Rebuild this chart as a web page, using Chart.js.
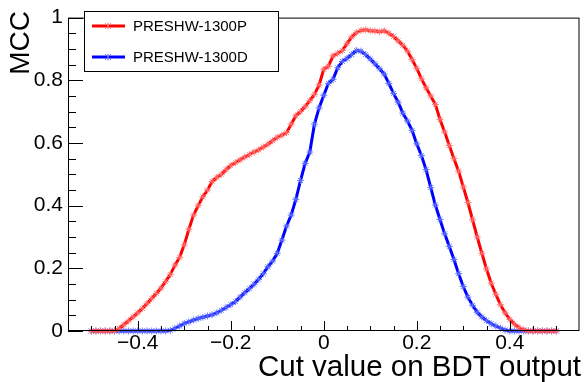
<!DOCTYPE html>
<html>
<head>
<meta charset="utf-8">
<script src="https://cdn.jsdelivr.net/npm/chart.js@4"></script>
<style>
  html, body { margin: 0; padding: 0; background: #fff; }
  #wrap { width: 584px; height: 382px; position: relative; }
</style>
</head>
<body>
<div id="wrap"><canvas id="mccChart"></canvas></div>
<script>
// cut values on the BDT output (bin centres)
const cutValues = [
  -0.50, -0.49, -0.48, -0.47, -0.46, -0.45, -0.44, -0.43, -0.42, -0.41,
  -0.40, -0.39, -0.38, -0.37, -0.36, -0.35, -0.34, -0.33, -0.32, -0.31,
  -0.30, -0.29, -0.28, -0.27, -0.26, -0.25, -0.24, -0.23, -0.22, -0.21,
  -0.20, -0.19, -0.18, -0.17, -0.16, -0.15, -0.14, -0.13, -0.12, -0.11,
  -0.10, -0.09, -0.08, -0.07, -0.06, -0.05, -0.04, -0.03, -0.02, -0.01,
   0.00,  0.01,  0.02,  0.03,  0.04,  0.05,  0.06,  0.07,  0.08,  0.09,
   0.10,  0.11,  0.12,  0.13,  0.14,  0.15,  0.16,  0.17,  0.18,  0.19,
   0.20,  0.21,  0.22,  0.23,  0.24,  0.25,  0.26,  0.27,  0.28,  0.29,
   0.30,  0.31,  0.32,  0.33,  0.34,  0.35,  0.36,  0.37,  0.38,  0.39,
   0.40,  0.41,  0.42,  0.43,  0.44,  0.45,  0.46,  0.47,  0.48,  0.49,
   0.50
];

const mccP = [
  0, 0, 0, 0, 0, 0, 0.008, 0.02, 0.032, 0.045,
  0.058, 0.072, 0.088, 0.104, 0.12, 0.137, 0.158, 0.18, 0.21, 0.235,
  0.275, 0.325, 0.37, 0.40, 0.428, 0.45, 0.477, 0.49, 0.50, 0.515,
  0.528, 0.537, 0.546, 0.555, 0.563, 0.571, 0.578, 0.587, 0.596, 0.607,
  0.618, 0.625, 0.633, 0.66, 0.687, 0.70, 0.716, 0.735, 0.755, 0.785,
  0.835, 0.845, 0.878, 0.886, 0.895, 0.917, 0.938, 0.952, 0.959, 0.961,
  0.958, 0.957, 0.955, 0.958, 0.95, 0.94, 0.926, 0.912, 0.893, 0.866,
  0.838, 0.805, 0.776, 0.75, 0.723, 0.675, 0.635, 0.592, 0.55, 0.51,
  0.46, 0.41, 0.355, 0.30, 0.248, 0.198, 0.153, 0.117, 0.084, 0.058,
  0.037, 0.022, 0.011, 0.004, 0, 0, 0, 0, 0, 0,
  0
];

const mccD = [
  0, 0, 0, 0, 0, 0, 0, 0, 0, 0,
  0, 0, 0, 0, 0, 0, 0, 0.002, 0.008, 0.016,
  0.024, 0.029, 0.035, 0.04, 0.044, 0.048, 0.052, 0.058, 0.066, 0.075,
  0.084, 0.094, 0.108, 0.122, 0.135, 0.149, 0.165, 0.183, 0.205, 0.223,
  0.248, 0.29, 0.335, 0.37, 0.42, 0.48, 0.535, 0.571, 0.66, 0.712,
  0.752, 0.79, 0.803, 0.84, 0.86, 0.87, 0.882, 0.895, 0.893, 0.882,
  0.868, 0.853, 0.837, 0.82, 0.79, 0.758, 0.73, 0.695, 0.67, 0.64,
  0.597, 0.56, 0.515, 0.458, 0.402, 0.356, 0.31, 0.27, 0.228, 0.183,
  0.142, 0.108, 0.082, 0.06, 0.045, 0.033, 0.023, 0.016, 0.009, 0.003,
  0, 0, 0, 0, 0, 0, 0, 0, 0, 0,
  0
];

const seriesLabels = ['PRESHW-1300P', 'PRESHW-1300D'];
const seriesColors = ['#ff0000', '#0000ff'];
const markerColors = ['rgba(255,110,110,0.9)', 'rgba(90,110,255,0.9)'];

const xTicks = [-0.4, -0.2, 0, 0.2, 0.4];
const xTickLabels = ['\u22120.4', '\u22120.2', '0', '0.2', '0.4'];
const yTicks = [0, 0.2, 0.4, 0.6, 0.8, 1];
const yTickLabels = ['0', '0.2', '0.4', '0.6', '0.8', '1'];

const FONT = '"Liberation Sans", Arial, Helvetica, sans-serif';

// ROOT-like frame: inward ticks, legend box, axis titles
const rootFrame = {
  id: 'rootFrame',
  afterDraw(chart) {
    const { ctx, chartArea: a, scales: { x, y } } = chart;
    ctx.save();
    ctx.strokeStyle = '#000';
    ctx.lineWidth = 1;
    ctx.strokeRect(a.left + 0.5, a.top + 0.5, a.right - a.left - 1, a.bottom - a.top - 1);

    // x ticks (major every 0.2, minor every 0.05)
    ctx.beginPath();
    for (let i = -10; i <= 10; i++) {
      const v = i * 0.05;
      if (v < x.min || v > x.max) continue;
      const px = Math.round(x.getPixelForValue(v)) + 0.5;
      const len = (i % 4 === 0) ? 10 : 5;
      ctx.moveTo(px, a.bottom);
      ctx.lineTo(px, a.bottom - len);
    }
    // y ticks
    for (let i = 0; i <= 20; i++) {
      const v = i * 0.05;
      const py = Math.round(y.getPixelForValue(v)) + 0.5;
      const len = (i % 4 === 0) ? 15 : 8;
      ctx.moveTo(a.left, py);
      ctx.lineTo(a.left + len, py);
    }
    ctx.stroke();

    // legend
    const lx = 84, ly = 11, lw = 194, lh = 60;
    ctx.fillStyle = '#fff';
    ctx.fillRect(lx, ly, lw, lh);
    ctx.strokeRect(lx + 0.5, ly + 0.5, lw, lh);
    chart.data.datasets.forEach((ds, i) => {
      const cy = ly + 15 + i * 31;
      ctx.strokeStyle = ds.borderColor;
      ctx.lineWidth = 3;
      ctx.beginPath();
      ctx.moveTo(92, cy);
      ctx.lineTo(125, cy);
      ctx.stroke();
      ctx.strokeStyle = ds.pointBorderColor;
      ctx.lineWidth = 1;
      ctx.beginPath();
      ctx.moveTo(105, cy - 3); ctx.lineTo(111, cy + 3);
      ctx.moveTo(105, cy + 3); ctx.lineTo(111, cy - 3);
      ctx.moveTo(108, cy - 3.5); ctx.lineTo(108, cy + 3.5);
      ctx.stroke();
      ctx.fillStyle = '#000';
      ctx.font = '15px ' + FONT;
      ctx.textAlign = 'left';
      ctx.textBaseline = 'middle';
      ctx.fillText(ds.label, 133, cy + 1);
    });

    // axis titles
    ctx.fillStyle = '#000';
    ctx.font = '29.5px ' + FONT;
    ctx.textAlign = 'right';
    ctx.textBaseline = 'alphabetic';
    ctx.fillText('Cut value on BDT output', 581, 376);
    ctx.font = '28px ' + FONT;
    ctx.translate(29, 11);
    ctx.rotate(-Math.PI / 2);
    ctx.fillText('MCC', 0, 0);
    ctx.restore();
  }
};

function makeSeries(values) {
  return cutValues.map((c, i) => ({ x: c, y: values[i] }));
}

const ctx = document.getElementById('mccChart').getContext('2d');
new Chart(ctx, {
  type: 'line',
  data: {
    datasets: [mccP, mccD].map((vals, i) => ({
      label: seriesLabels[i],
      data: makeSeries(vals),
      borderColor: seriesColors[i],
      backgroundColor: markerColors[i],
      borderWidth: 3,
      tension: 0,
      fill: false,
      clip: false,
      pointStyle: 'star',
      pointRadius: 3.5,
      pointBorderWidth: 1,
      pointBorderColor: markerColors[i],
      pointHoverRadius: 3.5
    }))
  },
  options: {
    responsive: true,
    maintainAspectRatio: false,
    animation: false,
    layout: { padding: { top: 11, right: 2, left: 0, bottom: 0 } },
    plugins: { legend: { display: false }, tooltip: { enabled: false } },
    scales: {
      x: {
        type: 'linear',
        min: -0.55,
        max: 0.55,
        afterBuildTicks: s => { s.ticks = xTicks.map(v => ({ value: v })); },
        afterFit: s => { s.height = 51; },
        grid: { display: false, drawTicks: false, tickLength: 0 },
        border: { display: false },
        ticks: {
          color: '#000',
          font: { family: FONT, size: 21 },
          padding: 0,
          maxRotation: 0,
          autoSkip: false,
          callback: v => xTickLabels[xTicks.findIndex(t => Math.abs(t - v) < 1e-9)]
        }
      },
      y: {
        type: 'linear',
        min: 0,
        max: 1,
        afterBuildTicks: s => { s.ticks = yTicks.map(v => ({ value: v })); },
        afterFit: s => { s.width = 68; },
        grid: { display: false, drawTicks: false, tickLength: 0 },
        border: { display: false },
        ticks: {
          color: '#000',
          font: { family: FONT, size: 21 },
          padding: 5,
          autoSkip: false,
          callback: v => yTickLabels[yTicks.findIndex(t => Math.abs(t - v) < 1e-9)]
        }
      }
    }
  },
  plugins: [rootFrame]
});
</script>
</body>
</html>
